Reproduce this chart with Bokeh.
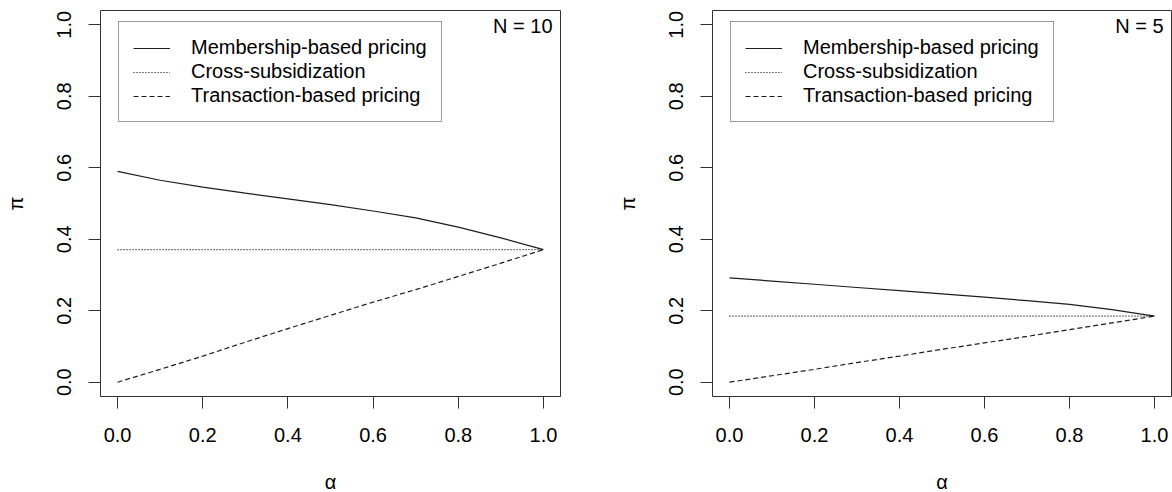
from bokeh.plotting import figure
from bokeh.layouts import row
from bokeh.models import Range1d, FixedTicker, PrintfTickFormatter, Legend, LegendItem, Label
from bokeh.embed import file_html
from bokeh.resources import INLINE

# ---- data ----
alpha = [0.0, 0.1, 0.2, 0.3, 0.4, 0.5, 0.6, 0.7, 0.8, 0.9, 1.0]
cross_alpha = [0.0, 1.0]

n10_membership = [0.590, 0.565, 0.546, 0.529, 0.513, 0.497, 0.479, 0.460, 0.434, 0.404, 0.371]
n10_cross = [0.371, 0.371]
n10_transaction = [0.000, 0.036, 0.073, 0.112, 0.150, 0.187, 0.224, 0.259, 0.296, 0.333, 0.371]

n5_membership = [0.292, 0.283, 0.274, 0.265, 0.256, 0.247, 0.238, 0.228, 0.218, 0.203, 0.185]
n5_cross = [0.185, 0.185]
n5_transaction = [0.000, 0.018, 0.036, 0.055, 0.073, 0.092, 0.110, 0.128, 0.147, 0.166, 0.185]

ticks = [0.0, 0.2, 0.4, 0.6, 0.8, 1.0]
series_labels = ["Membership-based pricing", "Cross-subsidization", "Transaction-based pricing"]
panel_labels = ["N = 10", "N = 5"]

FONT = "Liberation Sans"
LINE = "#1e1e1e"
BOX = "#333333"


def make_panel(label, membership, cross, transaction, border_left, border_right, fw):
    p = figure(frame_width=fw, frame_height=386,
               x_range=Range1d(-0.04, 1.04), y_range=Range1d(-0.04, 1.04),
               output_backend="svg", toolbar_location=None,
               min_border_left=border_left, min_border_right=border_right,
               min_border_top=10, min_border_bottom=96,
               background_fill_color="white", border_fill_color="white")
    p.outline_line_color = BOX
    p.outline_line_width = 1
    p.xgrid.visible = False
    p.ygrid.visible = False

    for ax in (p.xaxis[0], p.yaxis[0]):
        ax.ticker = FixedTicker(ticks=ticks)
        ax.formatter = PrintfTickFormatter(format="%.1f")
        ax.major_tick_out = 12
        ax.major_tick_in = 0
        ax.minor_tick_line_color = None
        ax.major_tick_line_color = BOX
        ax.axis_line_color = None
        ax.major_label_text_font = FONT
        ax.major_label_text_font_size = "20px"
        ax.major_label_text_color = "black"
        ax.axis_label_text_font = FONT
        ax.axis_label_text_font_size = "20px"
        ax.axis_label_text_font_style = "normal"
        ax.axis_label_text_color = "black"

    p.xaxis.axis_label = "α"
    p.xaxis.major_label_standoff = 19
    p.xaxis.axis_label_standoff = 26
    p.yaxis.axis_label = "π"
    p.yaxis.major_label_orientation = "vertical"
    p.yaxis.major_label_standoff = 17
    p.yaxis.axis_label_standoff = 28

    r1 = p.line(alpha, membership, line_color=LINE, line_width=1.2)
    r2 = p.line(cross_alpha, cross, line_color="black", line_width=1.2, line_dash="1 2")
    r3 = p.line(alpha, transaction, line_color=LINE, line_width=1.2, line_dash="5 3")

    legend = Legend(items=[LegendItem(label=series_labels[0], renderers=[r1]),
                           LegendItem(label=series_labels[1], renderers=[r2]),
                           LegendItem(label=series_labels[2], renderers=[r3])],
                    location=(18, 274), margin=0, padding=14, spacing=1,
                    glyph_width=37, glyph_height=20, label_height=20, label_standoff=21,
                    label_text_font=FONT, label_text_font_size="20px", label_text_color="black",
                    border_line_color=BOX, border_line_width=1,
                    background_fill_color="white", background_fill_alpha=1.0)
    p.add_layout(legend, "center")

    p.add_layout(Label(x=1.04, y=1.04, x_offset=-8, y_offset=-15, text=label,
                       text_align="right", text_baseline="middle",
                       text_font=FONT, text_font_size="20px", text_color="black"))
    return p


p1 = make_panel(panel_labels[0], n10_membership, n10_cross, n10_transaction, 100, 30, 460)
p2 = make_panel(panel_labels[1], n5_membership, n5_cross, n5_transaction, 122, 1, 459)

layout = row(p1, p2)
open("out.html", "w").write(file_html(layout, INLINE))
